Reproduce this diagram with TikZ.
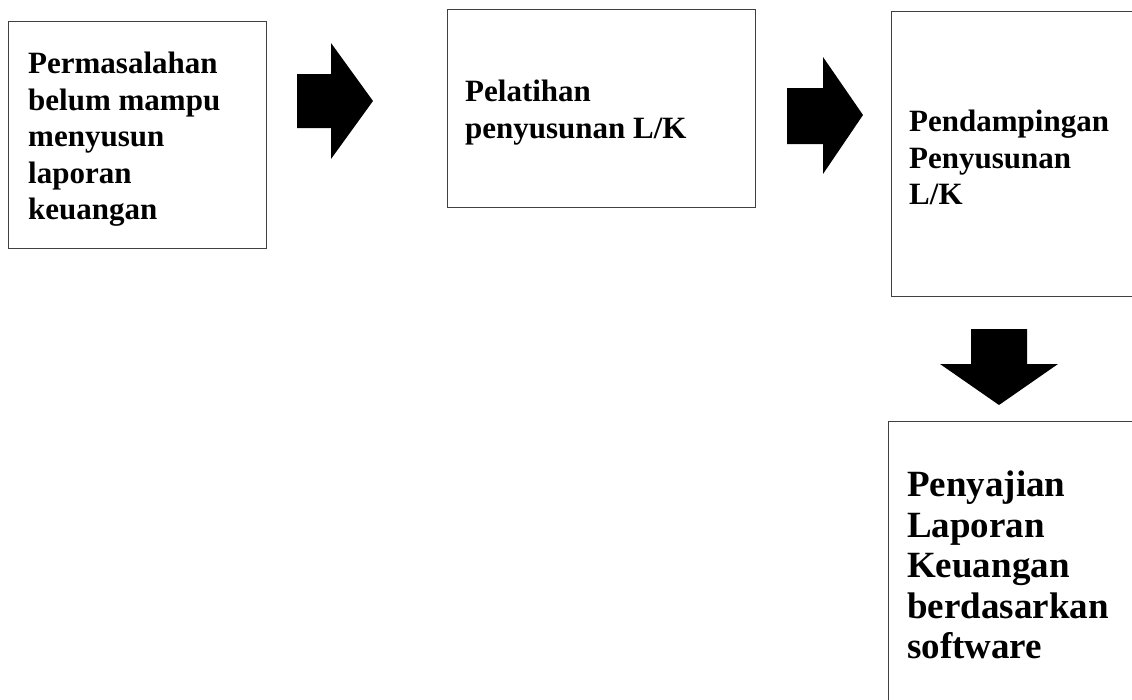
\documentclass[tikz,border=0pt]{standalone}
\usepackage{fontspec}
\setmainfont{Liberation Serif}
\usetikzlibrary{positioning}

\begin{document}
\begin{tikzpicture}[
    x=1pt, y=-1pt,
    box/.style={draw=black!75, line width=0.9pt, fill=white, anchor=north west},
    boxtext/.style={align=left, inner sep=0pt, font=\bfseries\fontsize{31}{36.5}\selectfont},
    bigtext/.style={boxtext, font=\bfseries\fontsize{37}{40.5}\selectfont},
    blockarrow/.style={fill=black}
]
\useasboundingbox (0,0) rectangle (1132,699);
\clip (0,0) rectangle (1132,699);

% Boxes
\node[box, minimum width=258pt, minimum height=227pt] (masalah) at (8,21) {};
\node[box, minimum width=308pt, minimum height=198pt] (pelatihan) at (447,9) {};
\node[box, minimum width=280pt, minimum height=285pt] (pendampingan) at (891,11) {};
\node[box, minimum width=280pt, minimum height=320pt] (penyajian) at (888,421) {};

% Texts
\node[boxtext, below right=31pt and 20pt of masalah.north west] (tmasalah)
    {Permasalahan\\belum mampu\\menyusun\\laporan\\keuangan};
\node[boxtext, below right=71pt and 18pt of pelatihan.north west] (tpelatihan)
    {Pelatihan\\penyusunan L/K};
\node[boxtext, below right=99pt and 18pt of pendampingan.north west] (tpendampingan)
    {Pendampingan\\Penyusunan\\L/K};
\node[bigtext, below right=50pt and 19pt of penyajian.north west] (tpenyajian)
    {Penyajian\\Laporan\\Keuangan\\berdasarkan\\software};

% Block arrows
\fill[blockarrow] (297,74) -- (331,74) -- (331,43) -- (373,101) -- (331,159) -- (331,128) -- (297,128) -- cycle;
\fill[blockarrow] (787,88) -- (823,88) -- (823,57) -- (863,115) -- (823,174) -- (823,144) -- (787,144) -- cycle;
\fill[blockarrow] (971,329) -- (1027,329) -- (1027,364) -- (1058,364) -- (999,405) -- (940,364) -- (971,364) -- cycle;

\end{tikzpicture}
\end{document}
